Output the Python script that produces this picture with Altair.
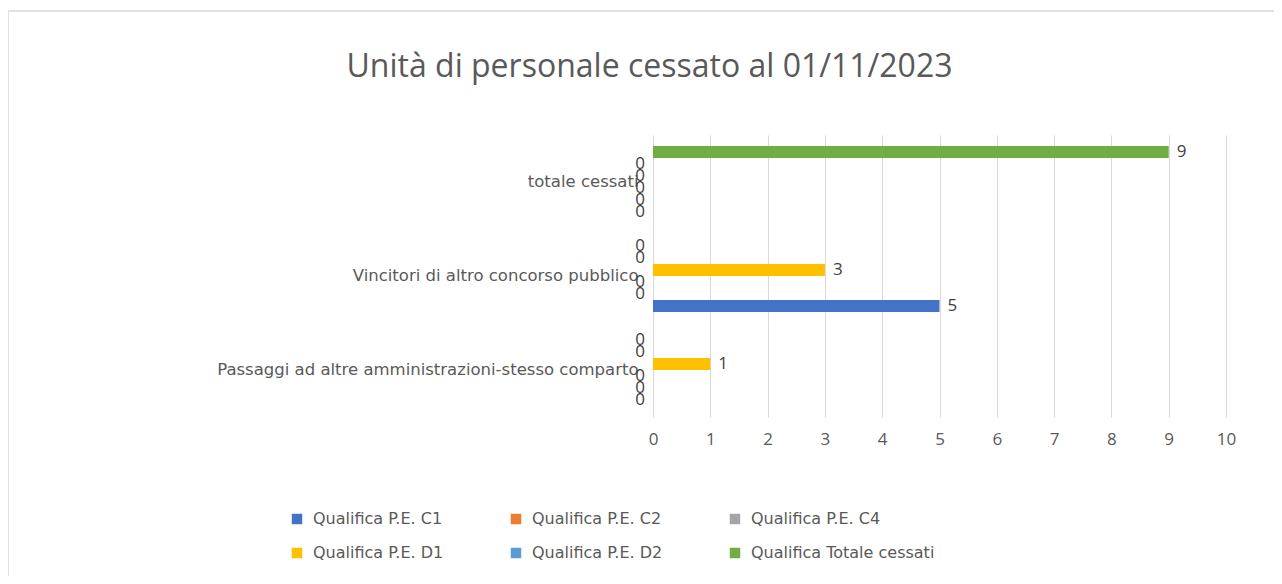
import altair as alt
import pandas as pd

categories = [
    "Passaggi ad altre amministrazioni-stesso comparto",
    "Vincitori di altro concorso pubblico",
    "totale cessati",
]
series = [
    "Qualifica P.E. C1",
    "Qualifica P.E. C2",
    "Qualifica P.E. C4",
    "Qualifica P.E. D1",
    "Qualifica P.E. D2",
    "Qualifica Totale cessati",
]
colors = ["#4472C4", "#ED7D31", "#A5A5A5", "#FFC000", "#5B9BD5", "#70AD47"]

val_c1 = [0, 5, 0]
val_c2 = [0, 0, 0]
val_c4 = [0, 0, 0]
val_d1 = [1, 3, 0]
val_d2 = [0, 0, 0]
val_tot = [0, 0, 9]

rows = []
for s, vals in zip(series, [val_c1, val_c2, val_c4, val_d1, val_d2, val_tot]):
    for c, v in zip(categories, vals):
        rows.append({"categoria": c, "serie": s, "valore": v})
df = pd.DataFrame(rows)

FONT = "DejaVu Sans"
TFONT = "Open Sans"
GREY = "#595959"

y_order = list(reversed(categories))
off_order = list(reversed(series))

y_enc = alt.Y(
    "categoria:N",
    sort=y_order,
    scale=alt.Scale(paddingInner=0.236, paddingOuter=0.118),
    axis=alt.Axis(
        title=None, domain=False, ticks=False, labelPadding=15,
        labelFont=FONT, labelFontSize=16.5, labelColor=GREY, labelLimit=700,
    ),
)
off_enc = alt.YOffset("serie:N", sort=off_order, scale=alt.Scale(paddingInner=0, paddingOuter=0))
x_enc = alt.X(
    "valore:Q",
    scale=alt.Scale(domain=[0, 10], nice=False),
    axis=alt.Axis(
        title=None, values=list(range(0, 11)), format="d", domain=False, ticks=False,
        grid=True, gridColor="#D9D9D9", labelPadding=14, labelFlush=False,
        labelFont=TFONT, labelFontSize=17, labelColor=GREY,
    ),
)

base = alt.Chart(df)

bars = base.mark_bar().encode(
    x=x_enc,
    y=y_enc,
    yOffset=off_enc,
    color=alt.Color(
        "serie:N",
        scale=alt.Scale(domain=series, range=colors),
        legend=alt.Legend(
            title=None, orient="none", legendX=-364, legendY=376,
            columns=3, direction="horizontal", symbolType="square", symbolSize=110,
            symbolStrokeWidth=0, labelFont=FONT, labelFontSize=16, labelColor=GREY,
            columnPadding=64, rowPadding=18, labelOffset=8, labelLimit=400,
        ),
    ),
)

labels_pos = base.transform_filter("datum.valore > 0").mark_text(
    align="left", baseline="middle", dx=8, font=TFONT, fontSize=17, color="#404040"
).encode(x=x_enc, y=alt.Y("categoria:N", sort=y_order), yOffset=off_enc, text=alt.Text("valore:Q", format="d"))

labels_zero = base.transform_filter("datum.valore == 0").mark_text(
    align="right", baseline="middle", dx=-8, font=TFONT, fontSize=17, color="#404040"
).encode(x=x_enc, y=alt.Y("categoria:N", sort=y_order), yOffset=off_enc, text=alt.Text("valore:Q", format="d"))

border = alt.Chart(pd.DataFrame({"b": [0]})).mark_rect(
    fill=None, stroke="#D9D9D9", strokeWidth=1.5
).encode(
    x=alt.value(-645), x2=alt.value(700), y=alt.value(-124), y2=alt.value(500)
)

chart = alt.layer(border, bars, labels_pos, labels_zero).properties(
    width=573,
    height=282,
    autosize=alt.AutoSizeParams(type="none"),
    padding={"left": 645, "top": 127, "right": 48, "bottom": 159},
    title=alt.TitleParams(
        "Unità di personale cessato al 01/11/2023",
        anchor="middle", dx=-290, offset=0, dy=99, baseline="alphabetic",
        font=TFONT, fontSize=32, fontWeight="normal", color=GREY,
    ),
).configure_view(stroke=None)

chart.save("out.html", embed_options={"renderer": "svg", "actions": False})
